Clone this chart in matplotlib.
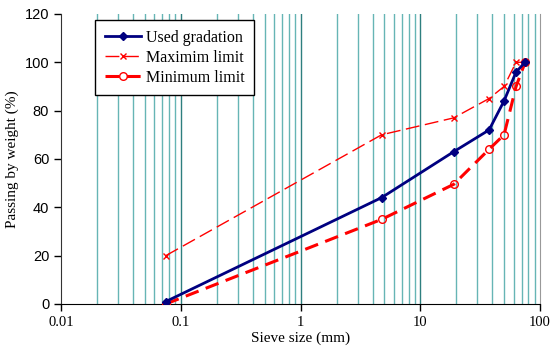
import matplotlib
matplotlib.use("Agg")
import matplotlib.pyplot as plt
from matplotlib.ticker import FixedLocator

# Sieve sizes (mm) and percent passing
sieve = [0.075, 4.75, 19, 37.5, 50, 63, 75]
used = [1, 44, 63, 72, 84, 96, 100]
max_limit = [20, 70, 77, 85, 90, 100, 100]
min_limit = [0, 35, 49.5, 64, 70, 90, 100]

serif = "Liberation Serif"
sans = "Liberation Sans"

fig = plt.figure(figsize=(5.5, 3.58), dpi=100)
ax = fig.add_axes([0.111, 0.151, 0.871, 0.81])

ax.set_xscale("log")
ax.set_xlim(0.01, 100)
ax.set_ylim(0, 120)

# vertical grid lines
minor_pos = [m * 10.0 ** e for e in range(-2, 2) for m in range(2, 10)]
for x in minor_pos:
    ax.axvline(x, color="#66b5b5", lw=1.0, zorder=0)
for x in [0.1, 1, 10]:
    ax.axvline(x, color="#2e7f7f", lw=1.0, zorder=0)

ax.plot(sieve, max_limit, color="red", lw=1.0, ls=(0, (10, 4)), marker="x",
        ms=5, mew=1.0, label="Maximim limit", zorder=3)
ax.plot(sieve, min_limit, color="red", lw=2.2, ls=(0, (4.5, 2.5)), marker="o",
        ms=5.5, mfc="none", mec="red", mew=1.0, label="Minimum limit", zorder=3)
ax.plot(sieve, used, color="#000080", lw=2.0, marker="D", ms=4.5,
        label="Used gradation", zorder=4)

ax.xaxis.set_major_locator(FixedLocator([0.01, 0.1, 1, 10, 100]))
ax.xaxis.set_minor_locator(FixedLocator([]))
ax.set_xticklabels(["0.01", "0.1", "1", "10", "100"], fontfamily=serif, fontsize=10.5)
ax.set_yticks(range(0, 121, 20))
for lab in ax.get_yticklabels():
    lab.set_fontfamily(sans)
    lab.set_fontsize(10.5)
ax.tick_params(direction="out", length=5, width=1, colors="black")

ax.spines["top"].set_visible(False)
ax.spines["right"].set_color("#999999")
ax.spines["left"].set_color("#333333")
ax.spines["bottom"].set_color("black")

ax.set_xlabel("Sieve size (mm)", fontfamily=serif, fontsize=11, labelpad=2)
ax.set_ylabel("Passing by weight (%)", fontfamily=serif, fontsize=11, labelpad=4)

# legend order as in the original: used, max, min
handles, labels = ax.get_legend_handles_labels()
order = [2, 0, 1]
leg = ax.legend([handles[i] for i in order], [labels[i] for i in order],
                loc="upper left", bbox_to_anchor=(0.071, 0.979), borderaxespad=0,
                prop={"family": serif, "size": 11.5}, frameon=True, fancybox=False,
                edgecolor="black", framealpha=1, handlelength=2.3,
                borderpad=0.6, labelspacing=0.25, handletextpad=0.3)
leg.get_frame().set_linewidth(1.0)

fig.savefig("out.png", dpi=100)
